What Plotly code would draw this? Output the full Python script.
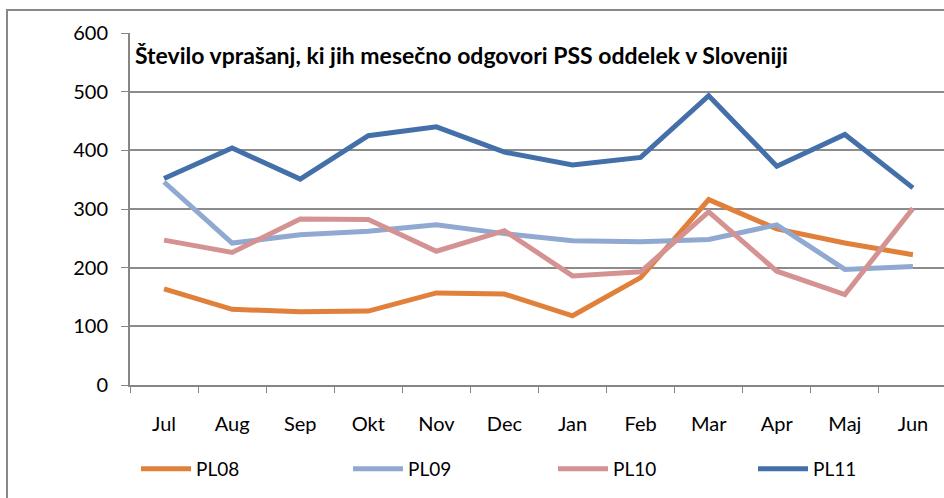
import plotly.graph_objects as go

months = ["Jul", "Aug", "Sep", "Okt", "Nov", "Dec", "Jan", "Feb", "Mar", "Apr", "Maj", "Jun"]
pl08 = [164, 129, 125, 126, 157, 155, 118, 183, 316, 266, 242, 222]
pl09 = [346, 242, 256, 262, 273, 258, 246, 244, 248, 273, 197, 202]
pl10 = [247, 226, 283, 282, 228, 263, 186, 193, 295, 194, 154, 301]
pl11 = [352, 404, 351, 425, 440, 397, 375, 388, 493, 373, 427, 336]
title_text = "Število vprašanj, ki jih mesečno odgovori PSS oddelek v Sloveniji"

series = [("PL08", pl08, "#E0803A"), ("PL09", pl09, "#8FA9D1"),
          ("PL10", pl10, "#D59292"), ("PL11", pl11, "#4470AA")]
legend_ids = ["legend", "legend2", "legend3", "legend4"]
legend_px = [136, 348, 553, 753]

FONT = "Lato, Carlito, Liberation Sans, sans-serif"

W, H = 944, 498
L, R, T, B = 130, 0, 33, 113
pw, ph = W - L - R, H - T - B

def px_x(px):
    return (px - L) / pw

def px_y(py):
    return (H - B - py) / ph

fig = go.Figure()
for (name, vals, col), lid in zip(series, legend_ids):
    fig.add_trace(go.Scatter(x=months, y=vals, name=name, mode="lines",
                             line=dict(color=col, width=5), legend=lid))

leg_common = dict(orientation="h", yanchor="middle", xanchor="left",
                  font=dict(size=19, family=FONT, color="black"),
                  bgcolor="rgba(0,0,0,0)", itemwidth=50)
legends = {lid: dict(x=px_x(lx), y=px_y(469), **leg_common)
           for lid, lx in zip(legend_ids, legend_px)}

fig.update_layout(
    width=W, height=H,
    margin=dict(l=L, r=R, t=T, b=B, pad=0, autoexpand=False),
    paper_bgcolor="white", plot_bgcolor="white",
    font=dict(family=FONT, size=20, color="black"),
    showlegend=True,
    annotations=[dict(text="<b>" + title_text + "</b>", x=px_x(133), y=px_y(55),
                      xref="paper", yref="paper", xanchor="left", yanchor="middle",
                      showarrow=False, font=dict(size=23, family=FONT, color="black"))],
    shapes=[dict(type="path", xref="paper", yref="paper",
                 path=f"M {px_x(7)},{px_y(500)} L {px_x(7)},{px_y(10)} L {px_x(950)},{px_y(10)}",
                 line=dict(color="#888888", width=2))],
    **legends,
)
fig.update_xaxes(type="category", range=[-0.5, 11.5 - 3 / 68.2], tickson="boundaries",
                 ticks="outside", ticklen=6, tickcolor="#868686", showline=True,
                 linecolor="#868686", linewidth=2, showgrid=False, automargin=False,
                 ticklabelstandoff=20, tickfont=dict(size=20))
fig.update_yaxes(range=[0, 600], dtick=100, ticks="outside", ticklen=7, tickcolor="#868686",
                 showline=True, linecolor="#868686", linewidth=2, showgrid=True,
                 gridcolor="#8C8C8C", gridwidth=2, zeroline=False, automargin=False,
                 ticklabelstandoff=9, tickfont=dict(size=20))

fig.write_html("out.html", config={"displayModeBar": False},
               post_script="document.body.style.margin='0';document.body.style.overflow='hidden';")
